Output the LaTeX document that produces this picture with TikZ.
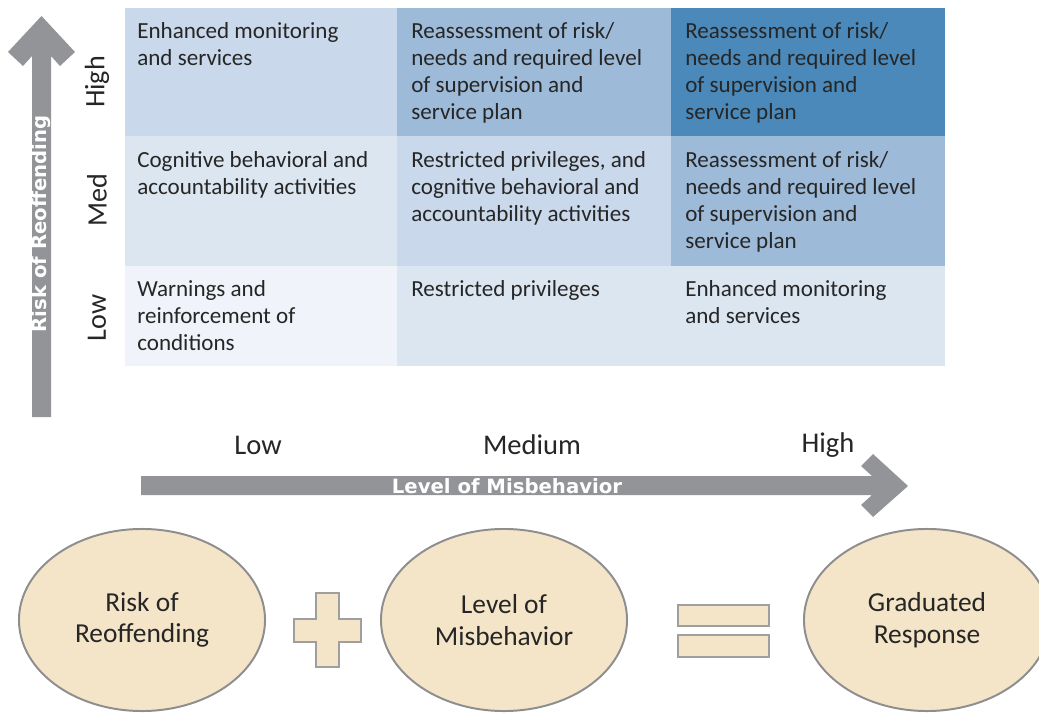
\documentclass[tikz,border=0pt]{standalone}
\usepackage{fontspec}
\setmainfont{Carlito}
\newfontfamily\arrowfont{DejaVu Sans}
\usetikzlibrary{shapes.geometric}

\definecolor{textgray}{HTML}{262626}
\definecolor{cellA}{HTML}{C9D8EA}
\definecolor{cellB}{HTML}{9DBAD8}
\definecolor{cellC}{HTML}{4A89B9}
\definecolor{cellD}{HTML}{DCE6F1}
\definecolor{cellE}{HTML}{F0F4FA}
\definecolor{arrowgray}{HTML}{929497}
\definecolor{ovalfill}{HTML}{F5E5C8}
\definecolor{ovalline}{HTML}{8E8E8E}

\begin{document}
\begin{tikzpicture}[x=0.025cm,y=-0.025cm,
    cell/.style={anchor=north west,inner sep=0pt,align=left,text=textgray,
      font=\fontsize{16.4}{19.2}\selectfont},
    rowlab/.style={rotate=90,inner sep=0pt,text=textgray,font=\fontsize{20}{24}\selectfont},
    axislab/.style={inner sep=0pt,text=textgray,font=\fontsize{20.3}{24}\selectfont},
    arrowlab/.style={inner sep=0pt,text=white,font=\arrowfont\bfseries\fontsize{14}{16}\selectfont},
    oval/.style={ellipse,draw=ovalline,line width=1.4pt,fill=ovalfill,inner sep=0pt,
      minimum width=6.15cm,minimum height=4.55cm,align=center,text=textgray,
      font=\fontsize{19.5}{22.5}\selectfont},
    sign/.style={draw=ovalline!85!white,line width=2pt,fill=ovalfill}]
    \useasboundingbox (0,0) rectangle (1039,715);

    % grid of responses
    \fill[cellA] (125,8) rectangle (397,136);
    \fill[cellB] (397,8) rectangle (671,136);
    \fill[cellC] (671,8) rectangle (945,136);
    \fill[cellD] (125,136) rectangle (397,266);
    \fill[cellA] (397,136) rectangle (671,266);
    \fill[cellB] (671,136) rectangle (945,266);
    \fill[cellE] (125,266) rectangle (397,366);
    \fill[cellD] (397,266) rectangle (945,366);

    \node[cell] (hiLow) at (137,22) {Enhanced monitoring\\and services};
    \node[cell] (hiMed) at (411,22) {Reassessment of risk/\\needs and required level\\of supervision and\\service plan};
    \node[cell] (hiHigh) at (685,22) {Reassessment of risk/\\needs and required level\\of supervision and\\service plan};
    \node[cell] (medLow) at (137,151) {Cognitive behavioral and\\accountability activities};
    \node[cell] (medMed) at (411,151) {Restricted privileges, and\\cognitive behavioral and\\accountability activities};
    \node[cell] (medHigh) at (685,151) {Reassessment of risk/\\needs and required level\\of supervision and\\service plan};
    \node[cell] (lowLow) at (137,280) {Warnings and\\reinforcement of\\conditions};
    \node[cell] (lowMed) at (411,280) {Restricted privileges};
    \node[cell] (lowHigh) at (685,280) {Enhanced monitoring\\and services};

    \node[rowlab] (rowHigh) at (97,82) {High};
    \node[rowlab] (rowMed) at (97,200) {Med};
    \node[rowlab] (rowLow) at (97,318) {Low};

    % risk arrow
    \fill[arrowgray] (41.5,16) -- (75,52) -- (60,66) -- (51,56) -- (51,417)
      -- (32,417) -- (32,56) -- (23,66) -- (8,52) -- cycle;
    \node[arrowlab,rotate=90] (riskAxis) at (41.5,224) {Risk of Reoffending};

    % misbehavior arrow
    \fill[arrowgray] (908,486) -- (873,454) -- (861,466) -- (872,476) -- (141,476)
      -- (141,495) -- (872,495) -- (861,505) -- (873,517) -- cycle;
    \node[arrowlab] (levelAxis) at (507,486) {Level of Misbehavior};

    \node[axislab] (colLow) at (258,445) {Low};
    \node[axislab] (colMed) at (532,445) {Medium};
    \node[axislab] (colHigh) at (828,445) {High};

    % equation
    \node[oval] (risk) at (142,620) {Risk of\\Reoffending};
    \node[oval] (level) at (504,620) {Level of\\Misbehavior};
    \node[oval] (response) at (927,620) {Graduated\\Response};

    \draw[sign] (316,593) -- (339,593) -- (339,619) -- (361,619) -- (361,642)
      -- (339,642) -- (339,667) -- (316,667) -- (316,642) -- (294,642)
      -- (294,619) -- (316,619) -- cycle;
    \draw[sign] (678,605) rectangle (769,626);
    \draw[sign] (678,635) rectangle (769,657);
\end{tikzpicture}
\end{document}
